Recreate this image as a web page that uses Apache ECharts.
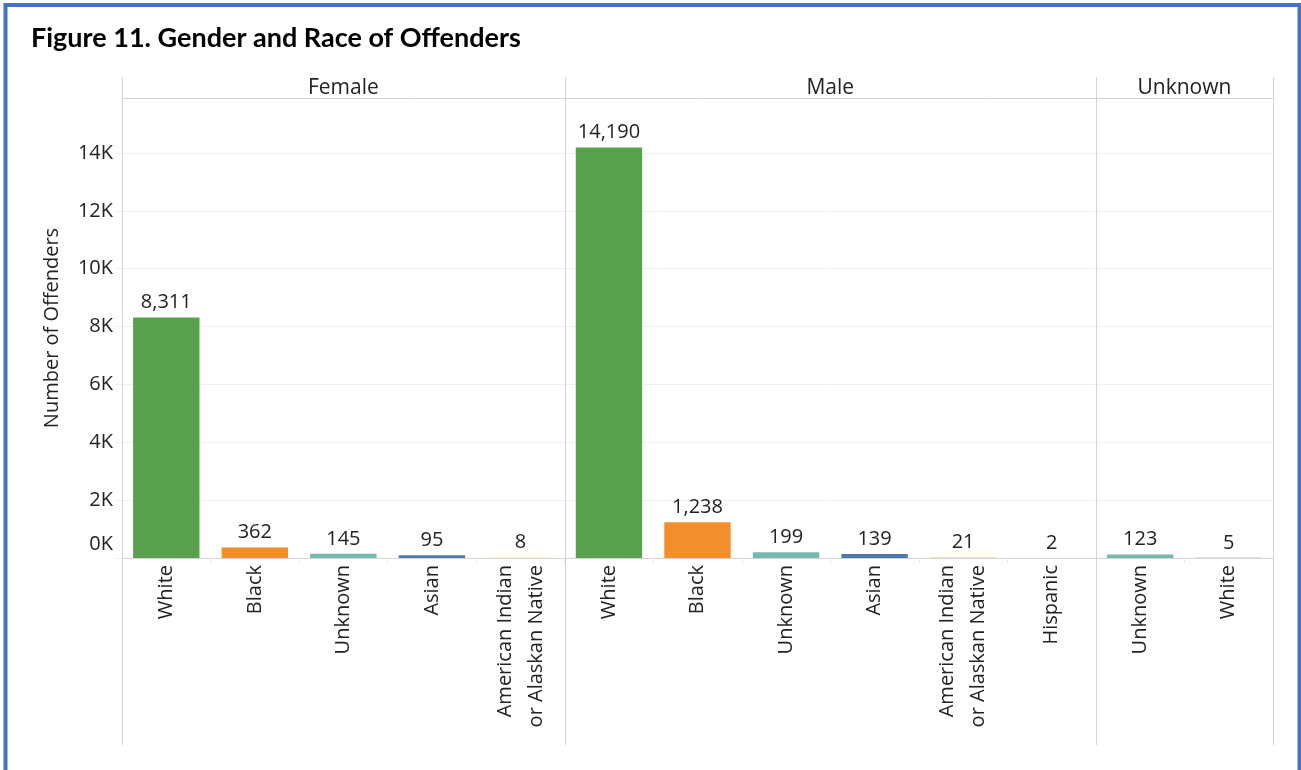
<!DOCTYPE html>
<html>
<head>
<meta charset="utf-8">
<title>Figure 11. Gender and Race of Offenders</title>
<script src="https://cdn.jsdelivr.net/npm/echarts@6/dist/echarts.min.js"></script>
<style>
  html, body { margin: 0; padding: 0; background: #ffffff; }
  #chart { width: 1301px; height: 770px; }
</style>
</head>
<body>
<div id="chart"></div>
<script>
// Offender counts by gender (panel) and race (category)
const panelNames = ['Female', 'Male', 'Unknown'];

const femaleRaces = ['White', 'Black', 'Unknown', 'Asian', 'American Indian\nor Alaskan Native'];
const femaleCounts = [8311, 362, 145, 95, 8];

const maleRaces = ['White', 'Black', 'Unknown', 'Asian', 'American Indian\nor Alaskan Native', 'Hispanic'];
const maleCounts = [14190, 1238, 199, 139, 21, 2];

const unknownRaces = ['Unknown', 'White'];
const unknownCounts = [123, 5];

const yTickStep = 2000;
const yMax = 15900;

// Colour for each race
const raceColors = {
  'White': '#59a14f',
  'Black': '#f28e2b',
  'Unknown': '#76b7b2',
  'Asian': '#4e79a7',
  'American Indian\nor Alaskan Native': '#edc948',
  'Hispanic': '#e15759'
};

const panelRaces = [femaleRaces, maleRaces, unknownRaces];
const panelCounts = [femaleCounts, maleCounts, unknownCounts];

// Layout of the trellis panels
const W = 1301, H = 770;
const plotLeft = 122, plotRight = 1273;
const headerTop = 77, headerBottom = 98, baseline = 558, frameBottom = 745;
const totalCats = panelRaces.reduce((s, r) => s + r.length, 0);
const catW = (plotRight - plotLeft) / totalCats;

const FONT = '"Open Sans", sans-serif';
const TEXT = '#222222';
const FRAME = '#d4d4d4';

const grids = [], xAxes = [], yAxes = [], series = [], graphics = [];
let x0 = plotLeft;
const edges = [x0];
panelRaces.forEach((races, i) => {
  const w = races.length * catW;
  grids.push({ left: x0, width: w, top: headerBottom, bottom: H - baseline, containLabel: false });
  xAxes.push({
    type: 'category', gridIndex: i, data: races,
    axisLine: { show: true, lineStyle: { color: FRAME, width: 1 } },
    axisTick: { show: true, interval: 0, length: 5, lineStyle: { color: '#e4e4e4' } },
    axisLabel: {
      interval: 0, rotate: 90, margin: 7, color: TEXT, fontSize: 20,
      fontFamily: FONT, lineHeight: 31
    }
  });
  yAxes.push({
    type: 'value', gridIndex: i, min: 0, max: yMax, interval: yTickStep,
    name: i === 0 ? 'Number of Offenders' : '',
    nameLocation: 'middle', nameRotate: 90, nameGap: 60,
    nameTextStyle: { color: TEXT, fontSize: 20, fontFamily: FONT },
    axisLine: { show: false },
    axisTick: { show: i === 0, length: 6, lineStyle: { color: '#eeeeee' } },
    axisLabel: {
      show: i === 0, color: TEXT, fontSize: 20, fontFamily: FONT, margin: 9,
      showMaxLabel: false,
      // the zero label sits just above the baseline
      formatter: v => v === 0 ? '{zero|0K}' : (v / 1000) + 'K',
      rich: { zero: { color: TEXT, fontSize: 20, fontFamily: FONT, padding: [0, 0, 27, 0] } }
    },
    splitLine: { show: true, lineStyle: { color: '#f0f0f0', width: 1 } }
  });
  series.push({
    type: 'bar', xAxisIndex: i, yAxisIndex: i,
    barCategoryGap: '25%',
    data: panelCounts[i].map((v, j) => ({
      value: v,
      itemStyle: { color: raceColors[races[j]] }
    })),
    label: {
      show: true, position: 'top', distance: 5,
      color: TEXT, fontSize: 20, fontFamily: FONT,
      formatter: p => p.value.toLocaleString('en-US')
    },
    emphasis: { disabled: true }
  });
  // panel header text
  graphics.push({
    type: 'text', x: x0 + w / 2, y: (headerTop + headerBottom) / 2 + 1,
    style: { text: panelNames[i], fill: TEXT, font: '21px ' + FONT, textAlign: 'center', textVerticalAlign: 'middle' },
    z: 10
  });
  x0 += w;
  edges.push(x0);
});

// panel dividers and header rule
edges.forEach(x => {
  graphics.push({
    type: 'line', shape: { x1: Math.round(x) + 0.5, y1: headerTop, x2: Math.round(x) + 0.5, y2: frameBottom },
    style: { stroke: FRAME, lineWidth: 1 }, z: 5
  });
});
graphics.push({
  type: 'line', shape: { x1: plotLeft, y1: headerBottom + 0.5, x2: plotRight, y2: headerBottom + 0.5 },
  style: { stroke: FRAME, lineWidth: 1 }, z: 5
});

// page frame (left, top and right edges)
graphics.push({
  type: 'polyline',
  shape: { points: [[5.5, H + 5], [5.5, 5], [1299.5, 5], [1299.5, H + 5]] },
  style: { stroke: '#4472c4', lineWidth: 4, fill: null }, z: 20
});

const chart = echarts.init(document.getElementById('chart'), null, { renderer: 'canvas' });
chart.setOption({
  animation: false,
  backgroundColor: '#ffffff',
  title: {
    text: 'Figure 11. Gender and Race of Offenders',
    left: 26, top: 20,
    textStyle: { fontFamily: 'Lato, sans-serif', fontWeight: 'bold', fontSize: 27, color: '#000000' }
  },
  grid: grids,
  xAxis: xAxes,
  yAxis: yAxes,
  series: series,
  graphic: graphics
});
</script>
</body>
</html>
